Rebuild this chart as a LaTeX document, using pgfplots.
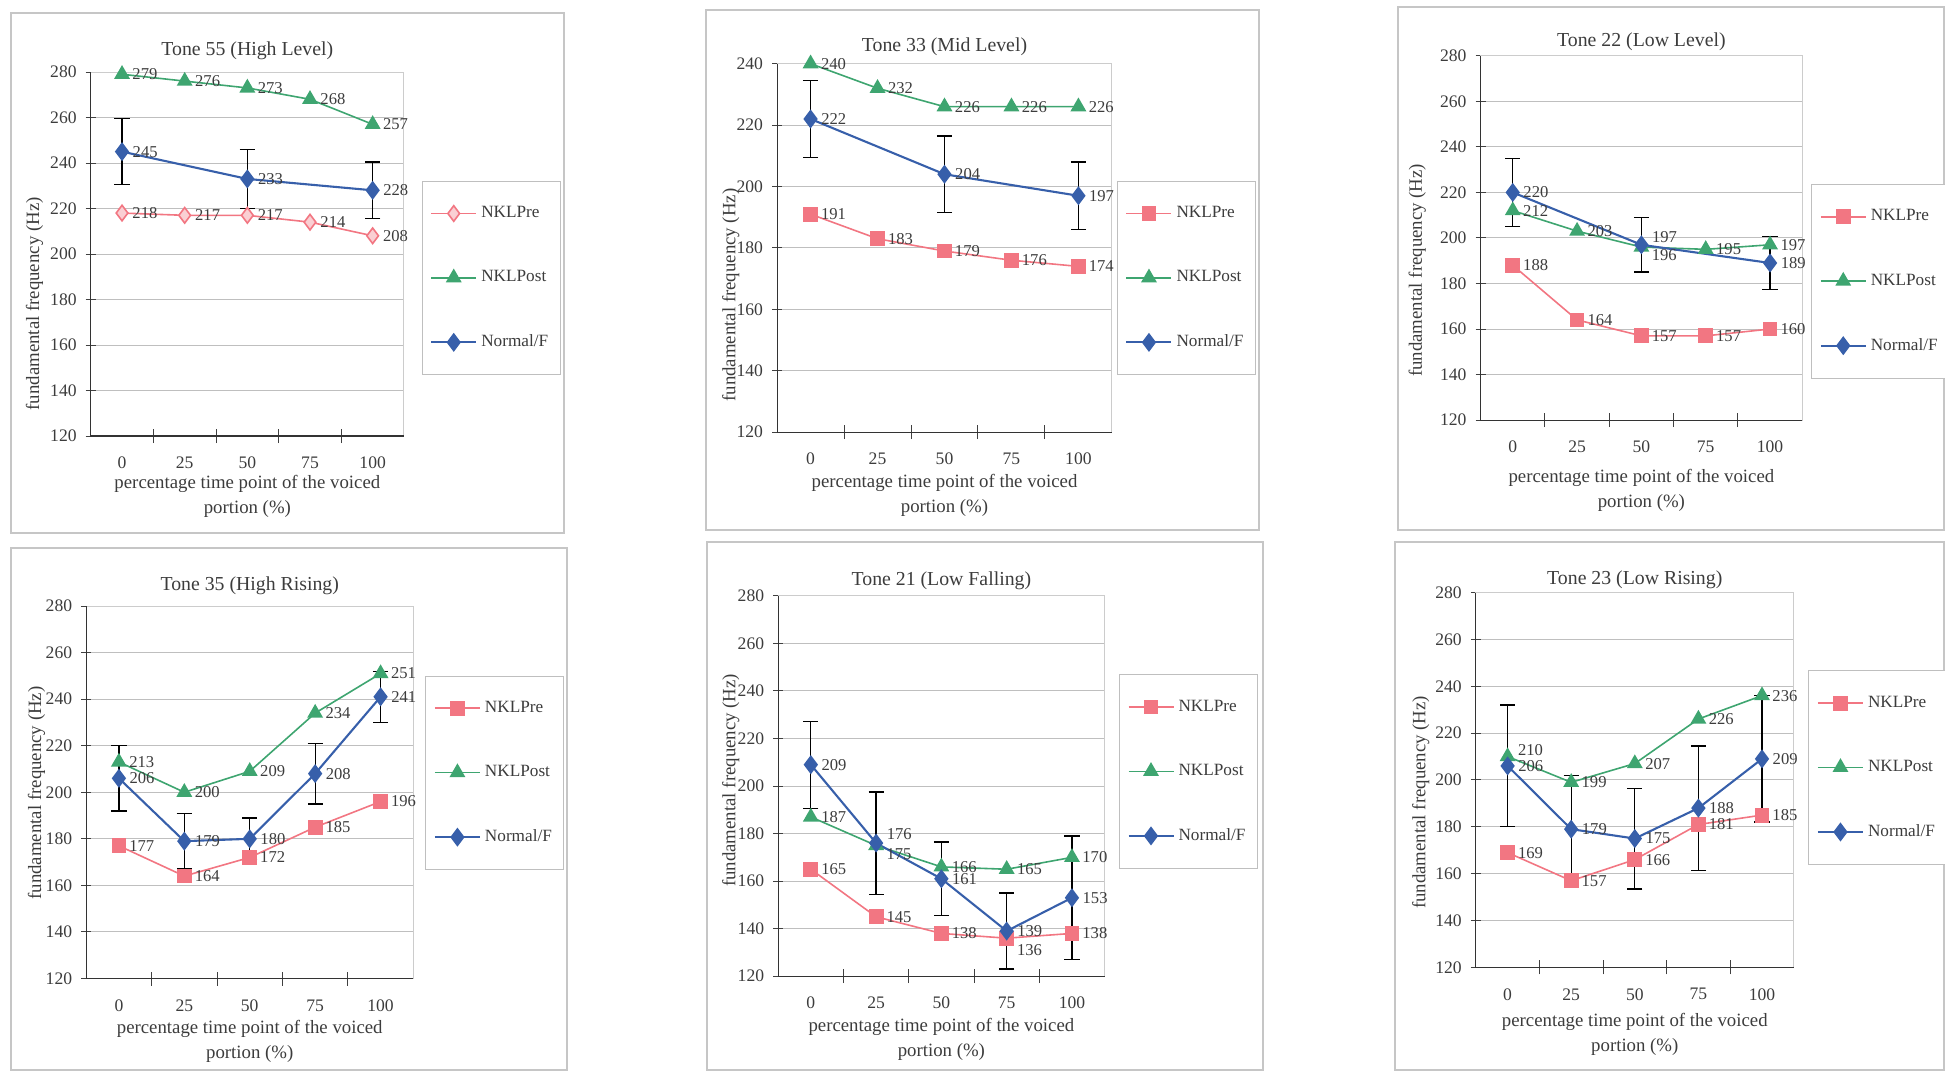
\documentclass[border=0pt]{standalone}
\usepackage{fontspec}
\setmainfont{Liberation Serif}
\usepackage{pgfplots}
\pgfplotsset{compat=1.18}
\definecolor{cpre}{RGB}{242,118,130}
\definecolor{cpost}{RGB}{62,165,112}
\definecolor{cnorm}{RGB}{55,95,170}
\definecolor{txt}{RGB}{60,60,60}
\newcommand{\fsz}{\fontsize{9.4}{12.5}\selectfont}
\newcommand{\ksz}{\fontsize{8.8}{10}\selectfont}
\newcommand{\tsz}{\fontsize{9.9}{11}\selectfont}
\newcommand{\lsz}{\fontsize{8.6}{10}\selectfont}
\newcommand{\nsz}{\fontsize{8.3}{9}\selectfont}
\pgfplotsset{
 panel/.style={
  scale only axis, anchor=south west, clip=false,
  xmin=-0.5, xmax=4.5, ymin=120, ymax=280, ytick distance=20,
  xtick={0,1,2,3,4}, xticklabels={0,25,50,75,100},
  minor xtick={0.5,1.5,2.5,3.5},
  xtick pos=bottom, ytick pos=left,
  tick align=center,
  major tick length=5pt, minor tick length=7pt,
  major x tick style={draw=none},
  tick style={gray!50!black, line width=0.5pt},
  ymajorgrids, grid style={gray!50, line width=0.5pt},
  axis line style={gray!40, line width=0.5pt},
  /pgf/number format/assume math mode=true,
  tick label style={font=\ksz, text=txt},
  xticklabel style={yshift=-6.3pt, inner sep=1.5pt},
  yticklabel style={xshift=-1pt},
  ylabel={fundamental frequency (Hz)},
  xlabel={percentage time point of the voiced\\portion (\%)},
  label style={font=\fsz, text=txt},
  xlabel style={align=center, at={(axis description cs:0.5,0)}, anchor=north, inner sep=1.5pt},
  ylabel style={anchor=center},
  every axis title shift=0pt,
  title style={font=\tsz, text=txt, at={(axis description cs:0.5,1)}, anchor=base},
  legend style={anchor=north west, draw=gray!50, line width=0.5pt, fill=white, font=\lsz, text=txt, row sep=21pt, inner ysep=10.5pt, inner xsep=4pt},
  legend cell align=left,
  legend image code/.code={\draw[mark repeat=2,mark phase=2] plot coordinates {(0pt,0pt)(11.25pt,0pt)(22.5pt,0pt)};},
  nodes near coords,
  every node near coord/.append style={anchor=west, xshift=1.5pt, font=\nsz, text=txt},
  after end axis/.code={\draw[gray!40!black, line width=0.6pt] (rel axis cs:0,1) -- (rel axis cs:0,0) -- (rel axis cs:1,0);},
 },
 pre/.style={color=cpre, line width=0.8pt, mark=square*, mark size=3.3pt, mark options={fill=cpre, draw=cpre, solid}},
 prediam/.style={color=cpre, line width=0.8pt, mark=diamond*, mark size=3.9pt, mark options={fill=cpre!35, draw=cpre, solid}},
 post/.style={color=cpost, line width=0.8pt, mark=triangle*, mark size=3.8pt, mark options={fill=cpost, draw=cpost, solid}},
 norm/.style={color=cnorm, line width=1.05pt, mark=diamond*, mark size=3.9pt, mark options={fill=cnorm, draw=cnorm, solid},
   error bars/y dir=both, error bars/y explicit,
   error bars/error bar style={black, line width=0.65pt},
   error bars/error mark options={black, line width=0.65pt, mark size=3.8pt, rotate=90}},
 yshiftlab/.style={visualization depends on={\thisrow{d}\as\dlab},
   every node near coord/.append style={yshift=\dlab pt}},
}
\begin{document}
\begin{tikzpicture}
\useasboundingbox (0pt,0pt) rectangle (972.5pt,-535.5pt);
\begin{scope}[gray!45, line width=0.6pt]
\draw (5.5pt,-6.5pt) rectangle (282pt,-266.5pt);
\draw (353pt,-5pt) rectangle (629.5pt,-265pt);
\draw (699pt,-3.5pt) rectangle (972pt,-265pt);
\draw (5.5pt,-274pt) rectangle (283.5pt,-535pt);
\draw (353.5pt,-271pt) rectangle (631.5pt,-535pt);
\draw (697.5pt,-271pt) rectangle (972pt,-535pt);
\end{scope}

% Tone 55
\begin{axis}[panel, at={(45.35pt,-218pt)}, width=156.65pt, height=182pt,
  title={Tone 55 (High Level)}, title style={yshift=8.5pt},
  ylabel style={at={(axis description cs:-0.179,0.363)}},
  xlabel style={yshift=-18pt},
  legend style={at={(axis description cs:1.0565,0.701)}}]
\addplot[prediam] table[x=x,y=y] {
x y
0 218
1 217
2 217
3 214
4 208
};
\addplot[post] table[x=x,y=y] {
x y
0 279
1 276
2 273
3 268
4 257
};
\addplot[norm] table[x=x,y=y,y error=e] {
x y e
0 245 14.5
2 233 13
4 228 12.5
};
\legend{NKLPre,NKLPost,Normal/F}
\end{axis}

% Tone 33
\begin{axis}[panel, at={(388.55pt,-216.1pt)}, width=167.4pt, height=184.25pt,
  ymax=240,
  title={Tone 33 (Mid Level)}, title style={yshift=6pt},
  ylabel style={at={(axis description cs:-0.138,0.372)}},
  xlabel style={yshift=-19.5pt},
  legend style={at={(axis description cs:1.015,0.682)}}]
\addplot[pre] table[x=x,y=y] {
x y
0 191
1 183
2 179
3 176
4 174
};
\addplot[post] table[x=x,y=y] {
x y
0 240
1 232
2 226
3 226
4 226
};
\addplot[norm] table[x=x,y=y,y error=e] {
x y e
0 222 12.5
2 204 12.5
4 197 11
};
\legend{NKLPre,NKLPost,Normal/F}
\end{axis}

% Tone 22
\begin{axis}[panel, at={(740.3pt,-210.05pt)}, width=160.8pt, height=182.15pt,
  title={Tone 22 (Low Level)}, title style={yshift=4.6pt},
  ylabel style={at={(axis description cs:-0.197,0.411)}},
  xlabel style={yshift=-23pt},
  legend style={at={(axis description cs:1.028,0.6476)}}]
\addplot[pre] table[x=x,y=y] {
x y
0 188
1 164
2 157
3 157
4 160
};
\addplot[post, yshiftlab] table[x=x,y=y] {
x y d
0 212 0
1 203 0
2 196 -4
3 195 0
4 197 0
};
\addplot[norm, yshiftlab] table[x=x,y=y,y error=e] {
x y e d
0 220 15 0
2 197 12 4
4 189 11.5 0
};
\legend{NKLPre,NKLPost,Normal/F}
\end{axis}

% Tone 35
\begin{axis}[panel, at={(43.1pt,-489.25pt)}, width=163.55pt, height=186.25pt,
  title={Tone 35 (High Rising)}, title style={yshift=7.6pt},
  ylabel style={at={(axis description cs:-0.152,0.498)}},
  xlabel style={yshift=-19pt},
  legend style={at={(axis description cs:1.037,0.813)}}]
\addplot[pre] table[x=x,y=y] {
x y
0 177
1 164
2 172
3 185
4 196
};
\addplot[post] table[x=x,y=y] {
x y
0 213
1 200
2 209
3 234
4 251
};
\addplot[norm] table[x=x,y=y,y error=e] {
x y e
0 206 14
1 179 12
2 180 9
3 208 13
4 241 11
};
\legend{NKLPre,NKLPost,Normal/F}
\end{axis}

% Tone 21
\begin{axis}[panel, at={(389.1pt,-488.1pt)}, width=163.2pt, height=190.15pt,
  title={Tone 21 (Low Falling)}, title style={yshift=5.1pt},
  ylabel style={at={(axis description cs:-0.145,0.515)}},
  xlabel style={yshift=-19.5pt},
  legend style={at={(axis description cs:1.044,0.7936)}}]
\addplot[pre, yshiftlab] table[x=x,y=y] {
x y d
0 165 0
1 145 0
2 138 0
3 136 -6
4 138 0
};
\addplot[post, yshiftlab] table[x=x,y=y] {
x y d
0 187 0
1 175 -4.5
2 166 0
3 165 0
4 170 0
};
\addplot[norm, yshiftlab] table[x=x,y=y,y error=e] {
x y e d
0 209 18.3 0
1 176 21.5 4.5
2 161 15.5 0
3 139 16 0
4 153 26 0
};
\legend{NKLPre,NKLPost,Normal/F}
\end{axis}

% Tone 23
\begin{axis}[panel, at={(737.9pt,-483.7pt)}, width=159pt, height=187.45pt,
  title={Tone 23 (Low Rising)}, title style={yshift=3.9pt},
  ylabel style={at={(axis description cs:-0.173,0.44)}},
  xlabel style={yshift=-21.25pt},
  legend style={at={(axis description cs:1.046,0.792)}}]
\addplot[pre] table[x=x,y=y] {
x y
0 169
1 157
2 166
3 181
4 185
};
\addplot[post, yshiftlab] table[x=x,y=y] {
x y d
0 210 3
1 199 0
2 207 0
3 226 0
4 236 0
};
\addplot[norm] table[x=x,y=y,y error=e] {
x y e
0 206 26
1 179 23
2 175 21.5
3 188 26.5
4 209 27
};
\legend{NKLPre,NKLPost,Normal/F}
\end{axis}
\end{tikzpicture}
\end{document}
